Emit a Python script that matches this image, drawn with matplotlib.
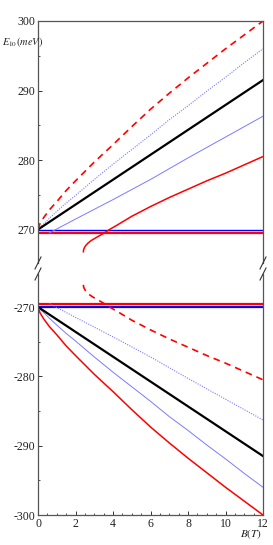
import numpy as np
import matplotlib
matplotlib.use("Agg")
import matplotlib.pyplot as plt
from matplotlib.lines import Line2D

plt.rcParams["font.family"] = ["Liberation Serif", "DejaVu Serif"]
plt.rcParams["mathtext.fontset"] = "stix"

# Data (upper branch; lower branch is its mirror)
b_lin = [0, 12]
e_black = [270.0, 291.5]

b_pow = [0, 0.1, 0.3, 0.6, 1, 1.5, 2, 3, 4, 5, 6, 7, 8, 9, 10, 11, 12]
e_red_upper = [270.0, 270.8, 271.7, 272.8, 274.0, 275.6, 277.0, 279.7, 282.2, 284.8,
               287.3, 289.6, 291.8, 293.9, 296.0, 298.0, 300.0]
e_blue_dot = [270.0, 270.3, 270.8, 271.6, 272.6, 273.8, 274.9, 277.2, 279.4, 281.5,
              283.6, 285.8, 287.8, 289.9, 291.9, 294.0, 296.0]

b_blue_thin = [0.6, 2, 4, 6, 8, 10, 12]
e_blue_thin = [269.5, 271.5, 274.3, 277.2, 280.3, 283.3, 286.3]

b_red_branch = [2.42, 2.43, 2.46, 2.51, 2.58, 2.67, 2.78, 2.92, 3.08, 3.27, 3.5, 3.78,
                4.2, 5, 6, 7, 8, 9, 10, 11, 12]
e_red_branch = [266.8, 267.05, 267.3, 267.55, 267.8, 268.05, 268.3, 268.55, 268.8,
                269.1, 269.45, 269.95, 270.6, 271.9, 273.3, 274.6, 275.8, 277.0,
                278.1, 279.3, 280.5]

e_flat_blue = 270.0
e_flat_red = 269.5

W, H = 273, 545
fig = plt.figure(figsize=(W / 100, H / 100), dpi=100)

x0, x1 = 38, 263
top_y0, top_y1 = 21, 263
bot_y0, bot_y1 = 274, 515

ax1 = fig.add_axes([x0 / W, 1 - top_y1 / H, (x1 - x0) / W, (top_y1 - top_y0) / H])
ax2 = fig.add_axes([x0 / W, 1 - bot_y1 / H, (x1 - x0) / W, (bot_y1 - bot_y0) / H])

blue_light = "#7a7aff"

# upper panel
ax1.plot([0, 12], [e_flat_blue] * 2, color="blue", lw=1.0)
ax1.plot([0, 12], [e_flat_red] * 2, color="red", lw=1.6)
ax1.plot(b_blue_thin, e_blue_thin, color=blue_light, lw=0.7)
ax1.plot(b_pow, e_blue_dot, color=blue_light, lw=0.8, ls=(0, (1, 1.2)))
ax1.plot(b_red_branch, e_red_branch, color="red", lw=1.1)
ax1.plot(b_lin, e_black, color="black", lw=1.6)
ax1.plot(b_pow, e_red_upper, color="red", lw=1.2, ls=(0, (4, 3)))

# lower panel (mirror)
neg = lambda v: [-e for e in v]
ax2.plot([0, 12], [-e_flat_red] * 2, color="red", lw=1.6)
ax2.plot([0, 12], [-e_flat_blue] * 2, color="blue", lw=1.6)
ax2.plot(b_blue_thin, neg(e_blue_thin), color=blue_light, lw=0.8, ls=(0, (1, 1.2)))
ax2.plot(b_pow, neg(e_blue_dot), color=blue_light, lw=0.7)
ax2.plot(b_red_branch, neg(e_red_branch), color="red", lw=1.2, ls=(0, (4, 3)))
ax2.plot(b_lin, neg(e_black), color="black", lw=1.6)
ax2.plot(b_pow, neg(e_red_upper), color="red", lw=1.1)

ax1.set_xlim(0, 12)
ax2.set_xlim(0, 12)
ax1.set_ylim(265.18, 300)
ax2.set_ylim(-300, -265.24)

spine_col = "#555555"
for ax in (ax1, ax2):
    for s in ax.spines.values():
        s.set_color(spine_col)
        s.set_linewidth(0.9)
    ax.tick_params(axis="both", which="both", direction="in", colors="#333333",
                   labelsize=8.5, right=False, top=False, pad=2)
    ax.tick_params(which="major", length=3, width=0.7)
    ax.tick_params(which="minor", length=1.5, width=0.6)
    ax.yaxis.set_minor_locator(plt.MultipleLocator(5))

ax1.spines["bottom"].set_visible(False)
ax2.spines["top"].set_visible(False)
ax1.tick_params(axis="x", which="both", bottom=False, labelbottom=False)
ax1.set_yticks([270, 280, 290, 300])
ax2.set_yticks([-300, -290, -280, -270])
ax2.set_yticklabels(["-300", "-290", "-280", "-270"])
ax2.set_xticks(range(0, 13, 2))
ax2.xaxis.set_minor_locator(plt.MultipleLocator(0.5))

for ax in (ax1, ax2):
    for lab in ax.get_xticklabels() + ax.get_yticklabels():
        lab.set_color("#222222")

# break marks
for xp in (x0, x1):
    for yp in (top_y1, bot_y0):
        fig.add_artist(Line2D([(xp - 3) / W, (xp + 3) / W],
                              [1 - (yp + 6) / H, 1 - (yp - 6) / H],
                              color="#333333", lw=0.8))

fig.text(2 / W, 1 - 42 / H, r"$E_{10}(meV)$", fontsize=7.5, va="center", ha="left",
         color="#222222")
fig.text(251 / W, 1 - 534 / H, r"$B(T)$", fontsize=8, va="center", ha="center",
         color="#222222")

fig.savefig("out.png", dpi=100)
